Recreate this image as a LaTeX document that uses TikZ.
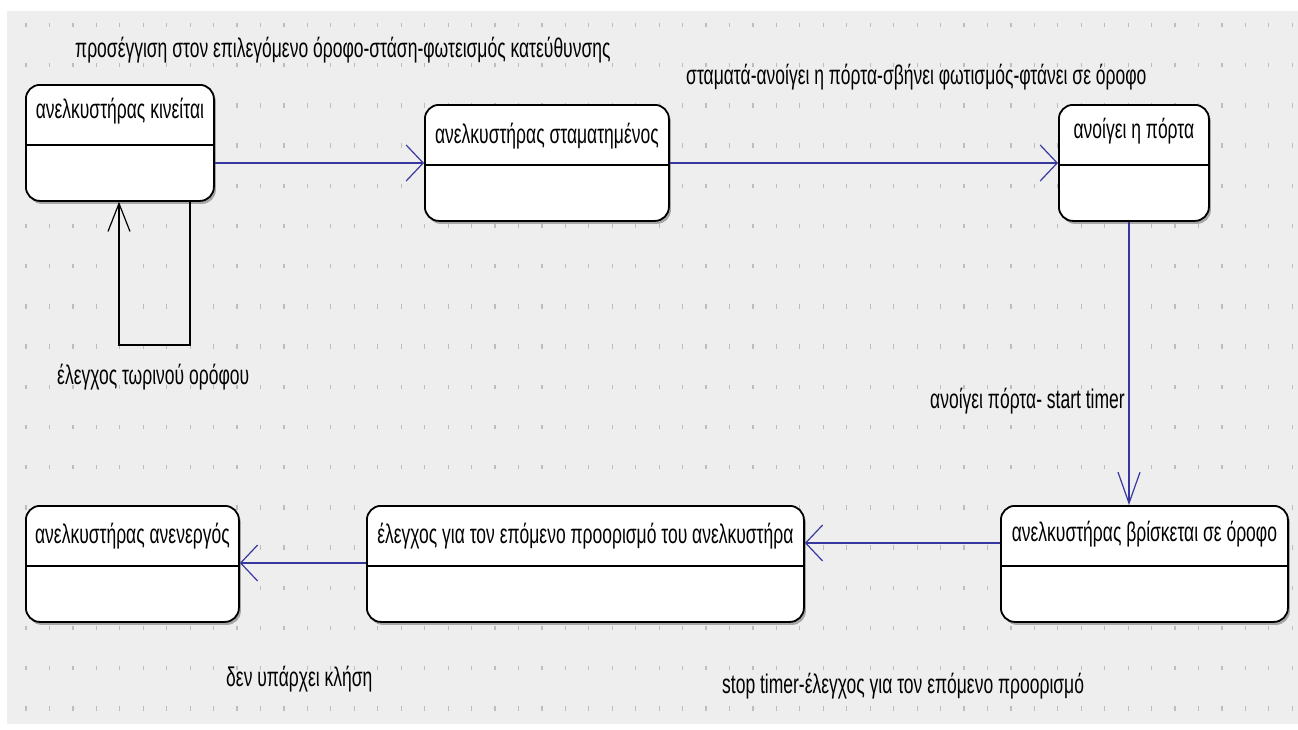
\documentclass[tikz,border=0pt]{standalone}
\usepackage{fontspec}
\setmainfont[FakeStretch=0.648]{Liberation Sans}
\usetikzlibrary{arrows.meta,shadows}

\definecolor{canvas}{HTML}{EEEEEE}
\definecolor{griddot}{HTML}{BDBDBD}
\definecolor{flowblue}{RGB}{55,55,160}

\tikzset{
  statebox/.style={draw=black, line width=1.8pt, fill=white, rounded corners=14pt,
    inner sep=0pt, anchor=north west, minimum height=116pt,
    drop shadow={shadow xshift=2pt, shadow yshift=-3pt, opacity=0.3, fill=black}},
  divider/.style={draw=black, line width=1.8pt},
  statename/.style={inner sep=0pt, anchor=base},
  trigger/.style={inner sep=0pt, anchor=base west},
  hflow/.style={draw=flowblue, line width=1.4pt,
    -{Straight Barb[length=17pt, width=36pt, line width=1.2pt]}},
  vflow/.style={draw=flowblue, line width=1.4pt,
    -{Straight Barb[length=31pt, width=22pt, line width=1.2pt]}},
  selfloop/.style={draw=black, line width=1.4pt,
    -{Straight Barb[length=28pt, width=22pt, line width=1.2pt]}},
}

\begin{document}
\begin{tikzpicture}[x=1pt, y=-1pt, font=\fontsize{27pt}{31pt}\selectfont]
  \useasboundingbox (0,0) rectangle (1298,729);
  % paper and drawing canvas
  \fill[white] (0,0) rectangle (1298,729);
  \fill[canvas] (7,11) rectangle (1298,724);
  % dotted grid
  \foreach \r in {0,...,17} {
    \foreach \c in {0,...,54} {
      \fill[griddot] ({26+23.45*\c-0.6}, {25+40.2*\r-2.2}) rectangle ++(1.2,4.4);
    }
  }

  % states: (left, top) corners and widths
  \node[statebox, minimum width=188pt] (s1) at (25,84) {};
  \node[statebox, minimum width=244pt] (s2) at (424,104) {};
  \node[statebox, minimum width=150pt] (s3) at (1058,104) {};
  \node[statebox, minimum width=287pt] (s4) at (1000,505) {};
  \node[statebox, minimum width=437pt] (s5) at (366,505) {};
  \node[statebox, minimum width=213pt] (s6) at (25,505) {};

  % compartment dividers
  \foreach \s in {s1,s2,s3,s4,s5,s6} {
    \draw[divider] ([yshift=-61pt]\s.north west) -- ([yshift=-61pt]\s.north east);
  }

  % state names
  \node[statename] (n1) at ([yshift=-34pt]s1.north) {ανελκυστήρας κινείται};
  \node[statename] (n2) at ([yshift=-39pt]s2.north) {ανελκυστήρας σταματημένος};
  \node[statename] (n3) at ([yshift=-34pt]s3.north) {ανοίγει η πόρτα};
  \node[statename] (n4) at ([yshift=-36pt]s4.north) {ανελκυστήρας βρίσκεται σε όροφο};
  \node[statename] (n5) at ([yshift=-38pt]s5.north) {έλεγχος για τον επόμενο προορισμό του ανελκυστήρα};
  \node[statename] (n6) at ([yshift=-38pt]s6.north) {ανελκυστήρας ανενεργός};

  % transition levels
  \coordinate (row1) at (0,163);
  \coordinate (row4) at (0,543);
  \coordinate (row5) at (0,563);
  \coordinate (col3) at (1129,0);
  \coordinate (loopR) at (190,345);
  \coordinate (loopL) at (119,345);

  % transitions
  \draw[hflow] (s1.east |- row1) -- (s2.west |- row1);
  \draw[hflow] (s2.east |- row1) -- (s3.west |- row1);
  \draw[vflow] (s3.south -| col3) -- (s4.north -| col3);
  \draw[hflow] (s4.west |- row4) -- (s5.east |- row4);
  \draw[hflow] (s5.west |- row5) -- (s6.east |- row5);
  \draw[selfloop] (s1.south -| loopR) -- (loopR) -- (loopL) -- (s1.south -| loopL);

  % transition labels
  \node[trigger] (l1) at (75,57) {προσέγγιση στον επιλεγόμενο όροφο-στάση-φωτεισμός κατεύθυνσης};
  \node[trigger] (l2) at (686,84) {σταματά-ανοίγει η πόρτα-σβήνει φωτισμός-φτάνει σε όροφο};
  \node[trigger] (l3) at (57,384) {έλεγχος τωρινού ορόφου};
  \node[trigger] (l4) at (930,408) {ανοίγει πόρτα- start timer};
  \node[trigger] (l5) at (226,686) {δεν υπάρχει κλήση};
  \node[trigger] (l6) at (722,693) {stop timer-έλεγχος για τον επόμενο προορισμό};
\end{tikzpicture}
\end{document}
